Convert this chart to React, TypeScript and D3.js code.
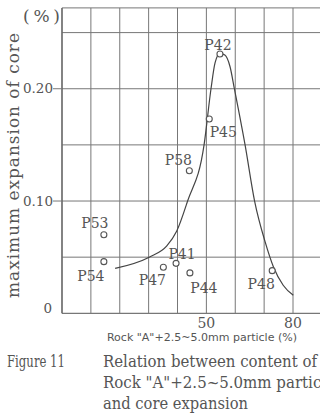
import React from 'react';
import * as d3 from 'd3';

// sample points (name, content %, expansion %)
const sampleNames = ['P42', 'P45', 'P58', 'P53', 'P54', 'P47', 'P41', 'P44', 'P48'];
const sampleX = [54.7, 51.0, 44.1, 14.5, 14.5, 35.1, 39.5, 44.3, 72.8];
const sampleY = [0.231, 0.173, 0.127, 0.070, 0.046, 0.041, 0.0445, 0.036, 0.038];

// hand drawn trend curve
const curveX = [18.4, 30.2, 36.3, 39.7, 43.5, 49.2, 51.6, 53.0, 54.7, 56.4, 58.2, 59.7, 63.4, 66.7, 70.3, 73.2, 76.6, 80.1];
const curveY = [0.040, 0.050, 0.060, 0.073, 0.100, 0.150, 0.200, 0.223, 0.2315, 0.230, 0.2196, 0.200, 0.150, 0.100, 0.064, 0.0415, 0.025, 0.016];

const xGrid = [0, 10, 20, 30, 40, 50, 60, 70, 80, 90];
const yGrid = [0, 0.05, 0.10, 0.15, 0.20, 0.25];
const yTickLabels = ['0', '0.10', '0.20'];
const yTickValues = [0, 0.10, 0.20];
const xTickLabels = ['50', '80'];
const xTickValues = [50, 80];

// label offsets from each circle (px)
const labelOffset: Record<string, [number, number]> = {
  P42: [-2, -9],
  P45: [14, 13],
  P58: [-11, -11],
  P53: [-9, -12],
  P54: [-13, 14],
  P47: [-11, 13],
  P41: [6, -9],
  P44: [14, 15],
  P48: [-11, 13],
};

const W = 320;
const H = 414;
const ink = '#555';
const serif = '"DejaVu Serif", serif';
const cond = '"DejaVu Serif Condensed", "DejaVu Serif", serif';

export default function App() {
  const x = d3.scaleLinear().domain([0, 80]).range([62, 293]);
  const y = d3.scaleLinear().domain([0, 0.25]).range([313.3, 32.6]);
  const yTop = y(0.272);
  const xRight = W + 2;

  const line = d3.line<number>()
    .x((d, i) => x(curveX[i]))
    .y(d => y(d))
    .curve(d3.curveMonotoneX);

  return (
    <div style={{ position: 'fixed', left: 0, top: 0, width: W, height: H, overflow: 'hidden', background: '#fff' }}>
      <svg width={W} height={H} style={{ display: 'block' }}>
        <rect width={W} height={H} fill="#fff" />

        {/* grid */}
        {xGrid.map(v => (
          <line key={'vx' + v} x1={x(v)} x2={x(v)} y1={yTop} y2={y(0)} stroke="#777" strokeWidth={1} />
        ))}
        {yGrid.map(v => (
          <line key={'hy' + v} x1={x(0)} x2={xRight} y1={y(v)} y2={y(v)} stroke="#777" strokeWidth={v === 0 ? 1.3 : 1} />
        ))}
        <line x1={x(0)} x2={xRight} y1={yTop} y2={yTop} stroke="#777" strokeWidth={1} />
        <line x1={x(0)} x2={x(0)} y1={yTop} y2={y(0)} stroke="#666" strokeWidth={1.3} />

        {/* y ticks */}
        {yTickValues.map((v, i) => (
          <g key={'yt' + v}>
            {v > 0 && <line x1={x(0) - 9} x2={x(0)} y1={y(v)} y2={y(v)} stroke="#777" strokeWidth={1} />}
            <text
              x={v > 0 ? x(0) - 9 : 52}
              y={v > 0 ? y(v) : y(v) - 5}
              dy="0.35em"
              textAnchor="end"
              fontFamily={serif}
              fontSize={13.5}
              fill={ink}
            >
              {yTickLabels[i]}
            </text>
          </g>
        ))}
        <text x={23} y={22} fontFamily={serif} fontSize={17} fill={ink} textLength={37} lengthAdjust="spacing">(%)</text>
        <text
          transform="translate(19,298) rotate(-90)"
          fontFamily={serif}
          fontSize={17}
          fill={ink}
          textLength={265}
          lengthAdjust="spacing"
        >
          maximum expansion of core
        </text>

        {/* x ticks */}
        {xTickValues.map((v, i) => (
          <text key={'xt' + v} x={x(v)} y={328} textAnchor="middle" fontFamily={serif} fontSize={14} fill={ink}>
            {xTickLabels[i]}
          </text>
        ))}
        <text
          x={107}
          y={341}
          fontFamily='"DejaVu Sans Condensed", "DejaVu Sans", sans-serif'
          fontSize={11}
          fill={ink}
          textLength={190}
          lengthAdjust="spacingAndGlyphs"
        >
          Rock "A"+2.5~5.0mm particle (%)
        </text>

        {/* curve */}
        <path d={line(curveY) || ''} fill="none" stroke="#444" strokeWidth={1.2} />

        {/* samples */}
        {sampleNames.map((n, i) => {
          const cx = x(sampleX[i]);
          const cy = y(sampleY[i]);
          const [dx, dy] = labelOffset[n];
          return (
            <g key={n}>
              <circle cx={cx} cy={cy} r={3} fill="#fff" stroke="#555" strokeWidth={1.1} />
              <text
                x={cx + dx}
                y={cy + dy}
                dy="0.36em"
                textAnchor="middle"
                fontFamily={serif}
                fontSize={14}
                fill={ink}
              >
                {n}
              </text>
            </g>
          );
        })}

        {/* caption */}
        <text x={7} y={367} fontFamily={cond} fontSize={17} fill={ink} textLength={58} lengthAdjust="spacingAndGlyphs">Figure 11</text>
        <text x={103} y={367} fontFamily={cond} fontSize={17} fill={ink} textLength={214} lengthAdjust="spacingAndGlyphs">Relation between content of</text>
        <text x={103} y={388} fontFamily={cond} fontSize={17} fill={ink} textLength={232} lengthAdjust="spacingAndGlyphs">Rock "A"+2.5~5.0mm particle</text>
        <text x={103} y={409} fontFamily={cond} fontSize={17} fill={ink} textLength={145} lengthAdjust="spacingAndGlyphs">and core expansion</text>
      </svg>
    </div>
  );
}
